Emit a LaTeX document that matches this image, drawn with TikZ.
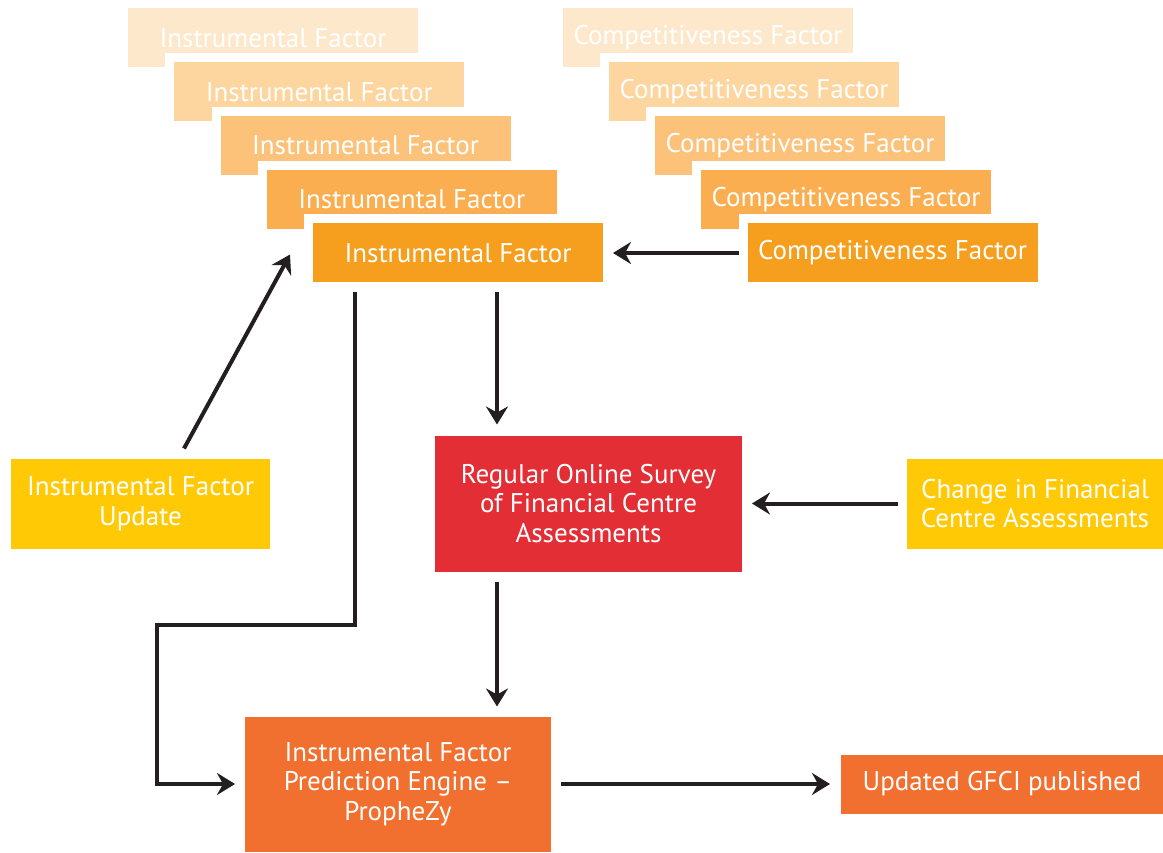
\documentclass[tikz,border=0pt]{standalone}
\usepackage{fontspec}
\setmainfont{PT Sans}
\usetikzlibrary{arrows.meta}
\definecolor{cA}{HTML}{FDE8CC}
\definecolor{cB}{HTML}{FDD59F}
\definecolor{cC}{HTML}{FCC27A}
\definecolor{cD}{HTML}{FAAE4F}
\definecolor{cE}{HTML}{F69F1F}
\definecolor{ylw}{HTML}{FFCA05}
\definecolor{redb}{HTML}{E32E35}
\definecolor{orb}{HTML}{F2702F}
\definecolor{arrc}{HTML}{231F20}
\begin{document}
\begin{tikzpicture}[x=1pt,y=-1pt,
  box/.style={rectangle, inner sep=0pt, outer sep=0pt, text=white, align=center,
    font=\fontsize{27}{29.5}\selectfont},
  fac/.style={box, minimum width=290pt, minimum height=59pt},
  halo/.style={rectangle, inner sep=0pt, fill=white, minimum width=308pt, minimum height=77pt},
  arr/.style={draw=arrc, line width=4pt, -{Stealth[length=18pt,width=22pt,inset=6pt]}}]
\useasboundingbox (0,0) rectangle (1163,853);
% Instrumental stack
\node[fac, fill=cA] (i1) at (273,38) {Instrumental Factor};
\node[halo] (h2) at (319.25,91.75) {};
\node[fac, fill=cB] (i2) at (319.25,91.75) {Instrumental Factor};
\node[halo] (h3) at (365.5,145.5) {};
\node[fac, fill=cC] (i3) at (365.5,145.5) {Instrumental Factor};
\node[halo] (h4) at (411.75,199.25) {};
\node[fac, fill=cD] (i4) at (411.75,199.25) {Instrumental Factor};
\node[halo] (h5) at (458,253) {};
\node[fac, fill=cE] (if5) at (458,253) {Instrumental Factor};
% Competitiveness stack
\node[fac, fill=cA] (c1) at (708,38) {Competitiveness Factor};
\node[halo] (g2) at (754,91.75) {};
\node[fac, fill=cB] (c2) at (754,91.75) {Competitiveness Factor};
\node[halo] (g3) at (800,145.5) {};
\node[fac, fill=cC] (c3) at (800,145.5) {Competitiveness Factor};
\node[halo] (g4) at (846,199.25) {};
\node[fac, fill=cD] (c4) at (846,199.25) {Competitiveness Factor};
\node[halo] (g5) at (892.5,253) {};
\node[fac, fill=cE] (cf5) at (892.5,253) {Competitiveness Factor};
% other boxes
\node[box, fill=ylw, minimum width=259pt, minimum height=90pt] (upd) at (140.5,503.5) {Instrumental Factor\\Update};
\node[box, fill=ylw, minimum width=256pt, minimum height=90pt] (chg) at (1035,503.5) {Change in Financial\\Centre Assessments};
\node[box, fill=redb, minimum width=307pt, minimum height=136pt] (srv) at (588.5,503.5) {Regular Online Survey\\of Financial Centre\\Assessments};
\node[box, fill=orb, minimum width=306pt, minimum height=135pt] (pred) at (398,784) {Instrumental Factor\\Prediction Engine --\\PropheZy};
\node[box, fill=orb, minimum width=322pt, minimum height=59pt] (pub) at (1002,784) {Updated GFCI published};
% connectors
\draw[arr] ([xshift=-9pt]cf5.west) -- ([xshift=10pt]if5.east);
\draw[arr] ([xshift=43.5pt,yshift=10pt]upd.north) -- ([xshift=-23pt,yshift=28pt]if5.south west);
\draw[arr] ([xshift=39pt,yshift=-10pt]if5.south) -- ([xshift=-91.5pt,yshift=11pt]srv.north);
\draw[arr] ([xshift=-9pt]chg.west) -- ([xshift=10pt]srv.east);
\draw[arr] ([xshift=-91.5pt,yshift=-10pt]srv.south) -- ([xshift=99pt,yshift=10pt]pred.north);
\draw[arr] ([xshift=-103pt,yshift=-10pt]if5.south) -- ++(0,332) -- ++(-198,0) |- ([xshift=-10pt]pred.west);
\draw[arr] ([xshift=10pt]pred.east) -- ([xshift=-11pt]pub.west);
\end{tikzpicture}
\end{document}
